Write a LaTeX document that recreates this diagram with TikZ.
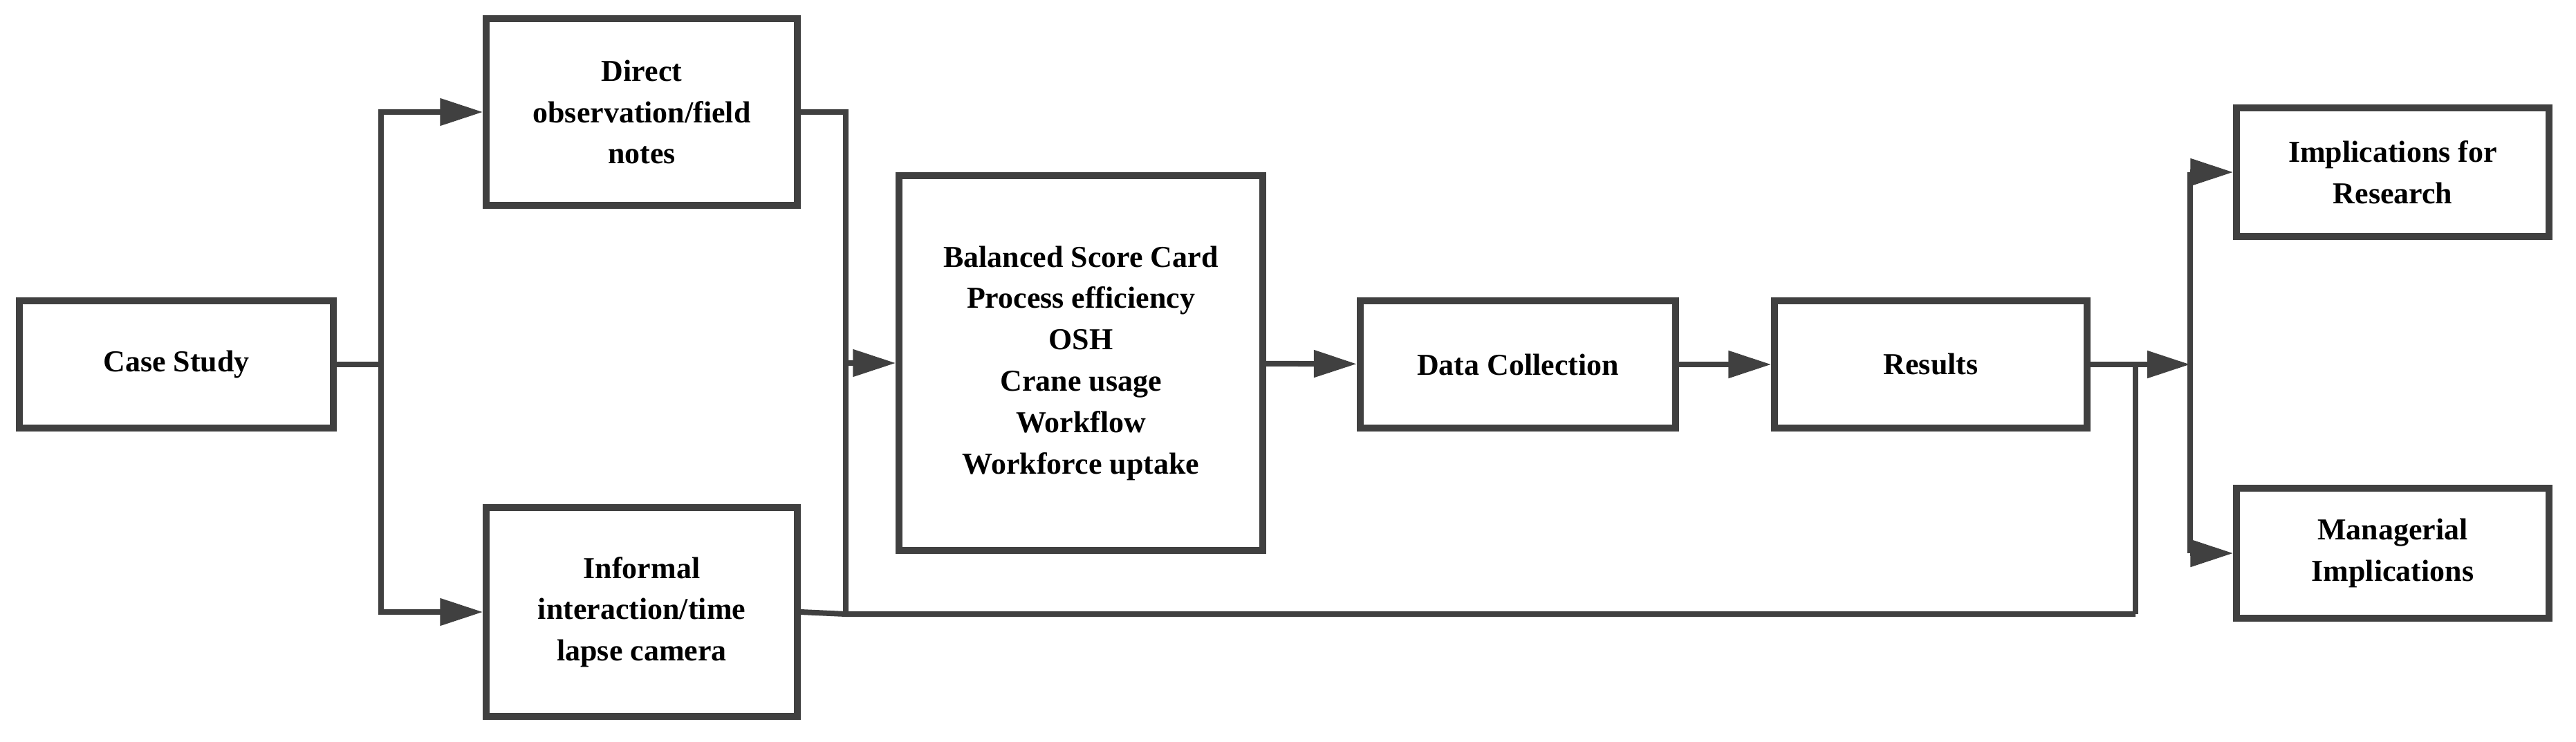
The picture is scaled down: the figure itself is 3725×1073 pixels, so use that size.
\documentclass[tikz,border=0pt]{standalone}
\usepackage{fontspec}
\setmainfont{Liberation Serif}
\usetikzlibrary{arrows.meta}
\definecolor{linegray}{RGB}{64,64,64}
\begin{document}
\begin{tikzpicture}[x=0.01cm,y=-0.01cm,
  box/.style={draw=linegray,line width=0.1cm,align=center,inner sep=0pt,
    font=\bfseries\fontsize{12.5}{17}\selectfont},
  conn/.style={draw=linegray,line width=0.08cm},
  arr/.style={conn,-{Triangle[length=0.62cm,width=0.38cm]}}]
\useasboundingbox (0,0) rectangle (3725,1073);
\node [box,minimum width=4.54cm,minimum height=1.83cm] (case) at (255,527) {Case Study};
\node [box,minimum width=4.49cm,minimum height=2.69cm] (direct) at (928,162) {Direct\\observation/field\\notes};
\node [box,minimum width=4.49cm,minimum height=3.02cm] (informal) at (928,885) {Informal\\interaction/time\\lapse camera};
\node [box,minimum width=5.25cm,minimum height=5.42cm] (bsc) at (1563,525) {Balanced Score Card\\Process efficiency\\OSH\\Crane usage\\Workflow\\Workforce uptake};
\node [box,minimum width=4.56cm,minimum height=1.83cm] (data) at (2195,527) {Data Collection};
\node [box,minimum width=4.51cm,minimum height=1.83cm] (results) at (2792,527) {Results};
\node [box,minimum width=4.51cm,minimum height=1.85cm] (research) at (3460,249) {Implications for\\Research};
\node [box,minimum width=4.51cm,minimum height=1.88cm] (managerial) at (3460,800) {Managerial\\Implications};
\coordinate (split) at (551,527);
\coordinate (merge) at (1223,888);
\coordinate (loop) at (3088,888);
\coordinate (fork) at (3167,527);
% left fan out
\draw [conn] (case.east) -- (split);
\draw [arr] (split) |- (direct.west);
\draw [arr] (split) |- (informal.west);
% merge into scorecard
\draw [conn] (direct.east) -| (merge);
\draw [conn] (informal.east) -- (merge) -- (loop);
\draw [arr] (merge |- bsc.west) -- (bsc.west);
\draw [arr] (bsc) -- (data);
\draw [arr] (data) -- (results);
% right fan out
\draw [conn] (results.east) -| (loop);
\draw [arr] (results.east) -- (fork);
\draw [conn] (fork |- research.west) -- (fork |- managerial.west);
\draw [arr] (fork |- research.west) -- (research.west);
\draw [arr] (fork |- managerial.west) -- (managerial.west);
\end{tikzpicture}
\end{document}
